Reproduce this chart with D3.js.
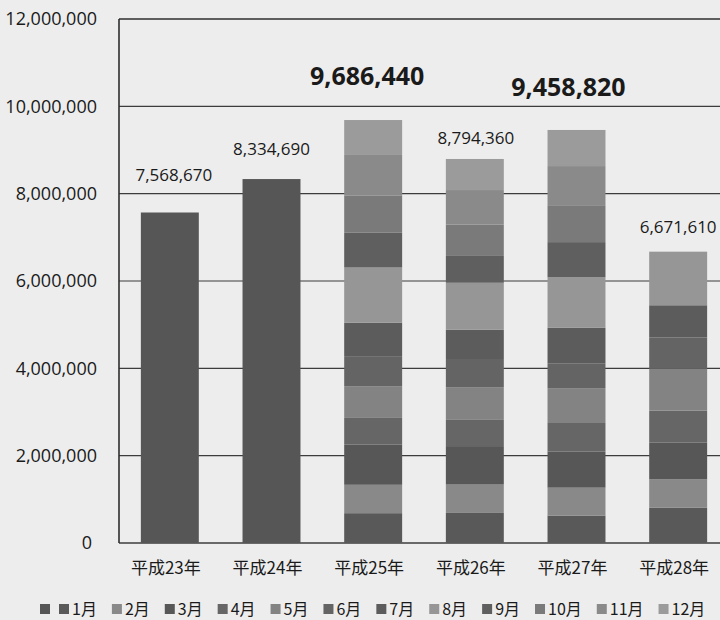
<!DOCTYPE html>
<html>
<head>
<meta charset="utf-8">
<script src="https://cdn.jsdelivr.net/npm/d3@7"></script>
<style>
  body { margin: 0; background: #ededed; }
  svg { display: block; }
  text { font-family: "Open Sans", "Noto Sans CJK JP", sans-serif; fill: #1a1a1a; }
</style>
</head>
<body>
<div id="viz"></div>
<script>
// categories
var years = ["平成23年", "平成24年", "平成25年", "平成26年", "平成27年", "平成28年"]
var months = ["1月", "2月", "3月", "4月", "5月", "6月", "7月", "8月", "9月", "10月", "11月", "12月"]

// yearly totals (only for 平成23/24, shown as one block)
var annualTotals = [7568670, 8334690, 0, 0, 0, 0]

// monthly values, 1月..12月
var h25 = [683120, 650340, 918560, 612480, 725910, 688250, 767630, 1262470, 803180, 840720, 933560, 800220]
var h26 = [688450, 650120, 880340, 613270, 728560, 652810, 673940, 1072380, 614250, 719630, 789170, 711440]
var h27 = [628340, 638910, 829450, 651280, 798620, 560130, 821470, 1156380, 805920, 844760, 896540, 827020]
var h28 = [806230, 651470, 845180, 727390, 958640, 716520, 738910, 1227270, 0, 0, 0, 0]

// y axis ticks
var yTicks = [0, 2000000, 4000000, 6000000, 8000000, 10000000, 12000000]

// styles
var seriesColors = ["#565656", "#595959", "#898989", "#575757", "#666666", "#838383",
                    "#646464", "#5c5c5c", "#969696", "#5f5f5f", "#7a7a7a", "#8a8a8a", "#9b9b9b"]
var labelSize = [17, 17, 25, 17, 25, 17]
var labelBold = [false, false, true, false, true, false]
var labelGap = [32, 24, 35, 15, 34, 19]
var labelShift = [4, 0, -6, 1, -8, 0]

var width = 720, height = 620
var margin = {top: 19, left: 119, bottom: 543, right: 729}

// build the table for the stack
var monthly = [null, null, h25, h26, h27, h28]
var keys = ["total"].concat(months)
var table = years.map(function(y, i) {
  var row = {year: y, total: annualTotals[i]}
  months.forEach(function(m, j) { row[m] = monthly[i] ? monthly[i][j] : 0 })
  return row
})

var xScale = d3.scaleBand()
  .domain(years)
  .range([margin.left, margin.right])
  .paddingInner(0.43)
  .paddingOuter(0.215)

var yScale = d3.scaleLinear()
  .domain([0, 12000000])
  .range([margin.bottom, margin.top])

var color = d3.scaleOrdinal().domain(keys).range(seriesColors)

var svg = d3.select("#viz")
  .append("svg")
    .attr("width", width)
    .attr("height", height)

// gridlines
svg.append("g")
  .selectAll("line")
  .data(yTicks)
  .enter()
  .append("line")
    .attr("x1", margin.left)
    .attr("x2", width)
    .attr("y1", function(d) { return yScale(d) })
    .attr("y2", function(d) { return yScale(d) })
    .attr("stroke", function(d) { return d == 12000000 ? "#2e2e2e" : "#3c3c3c" })
    .attr("stroke-width", function(d) { return d == 12000000 || d == 0 ? 1.6 : 1.2 })

// left frame
svg.append("line")
  .attr("x1", margin.left).attr("x2", margin.left)
  .attr("y1", yScale(12000000)).attr("y2", yScale(0))
  .attr("stroke", "#2e2e2e")
  .attr("stroke-width", 1.6)

// stacked bars
var stacked = d3.stack().keys(keys)(table)

svg.append("g")
  .selectAll("g")
  .data(stacked)
  .enter()
  .append("g")
    .attr("fill", function(d) { return color(d.key) })
  .selectAll("rect")
  .data(function(d) { return d })
  .enter()
  .append("rect")
    .attr("x", function(d) { return xScale(d.data.year) })
    .attr("y", function(d) { return yScale(d[1]) })
    .attr("width", xScale.bandwidth())
    .attr("height", function(d) { return yScale(d[0]) - yScale(d[1]) })

// y axis labels
svg.append("g")
  .selectAll("text")
  .data(yTicks)
  .enter()
  .append("text")
    .attr("x", function(d) { return d == 0 ? 92 : 97 })
    .attr("y", function(d) { return yScale(d) })
    .attr("dy", "0.35em")
    .attr("text-anchor", "end")
    .style("font-size", "18px")
    .text(function(d) { return d3.format(",")(d) })

// category labels
svg.append("g")
  .selectAll("text")
  .data(years)
  .enter()
  .append("text")
    .attr("x", function(d) { return xScale(d) + xScale.bandwidth() / 2 - 4 })
    .attr("y", 574)
    .attr("text-anchor", "middle")
    .style("font-family", "'Noto Sans CJK JP', sans-serif")
    .style("font-size", "17px")
    .text(function(d) { return d })

// total labels above each bar
svg.append("g")
  .selectAll("text")
  .data(table)
  .enter()
  .append("text")
    .attr("x", function(d, i) { return xScale(d.year) + xScale.bandwidth() / 2 + labelShift[i] })
    .attr("y", function(d, i) {
      var sum = d3.sum(keys, function(k) { return d[k] })
      return yScale(sum) - labelGap[i]
    })
    .attr("text-anchor", "middle")
    .style("font-size", function(d, i) { return labelSize[i] + "px" })
    .style("font-weight", function(d, i) { return labelBold[i] ? "bold" : "normal" })
    .text(function(d) { return d3.format(",")(d3.sum(keys, function(k) { return d[k] })) })

// legend
var legend = svg.append("g").attr("transform", "translate(40,609)")
var legendLabels = [""].concat(months)
var lx = 0
legendLabels.forEach(function(name, i) {
  var item = legend.append("g").attr("transform", "translate(" + lx + ",0)")
  item.append("rect")
    .attr("x", 0).attr("y", -5)
    .attr("width", 10).attr("height", 10)
    .attr("fill", color(keys[i]))
  var t = item.append("text")
    .attr("x", 13)
    .attr("y", 0)
    .attr("dy", "0.35em")
    .style("font-family", "'Noto Sans CJK JP', sans-serif")
    .style("font-size", "16px")
    .text(name)
  var w = name ? t.node().getComputedTextLength() : 0
  lx += name ? 13 + w + 15 : 19
})
</script>
</body>
</html>
